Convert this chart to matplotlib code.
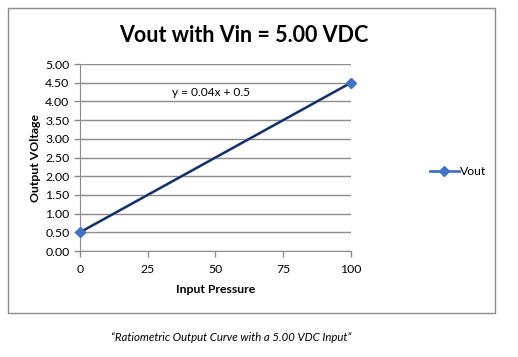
import matplotlib.pyplot as plt
from matplotlib.patches import Rectangle
import numpy as np

pressure = [0, 100]
vout = [0.5, 4.5]
x_ticks = [0, 25, 50, 75, 100]
y_ticks = [0.0, 0.5, 1.0, 1.5, 2.0, 2.5, 3.0, 3.5, 4.0, 4.5, 5.0]

plt.rcParams['font.family'] = ['Lato', 'DejaVu Sans']

fig = plt.figure(figsize=(5.18, 3.57), dpi=100)
ax = fig.add_axes([0.1544, 0.2969, 0.5232, 0.5238])

grid_color = '#8c8c8c'
blue = '#4472C4'

# chart border
fig.add_artist(Rectangle((0.0154, 0.1232), 0.940, 0.854, transform=fig.transFigure,
                         fill=False, edgecolor=grid_color, linewidth=1.0))

series, = ax.plot(pressure, vout, color=blue, marker='D', markersize=5, linewidth=2,
                  label='Vout', zorder=3)

# linear trendline
slope, intercept = np.polyfit(pressure, vout, 1)
xs = np.array([min(pressure), max(pressure)])
ax.plot(xs, slope * xs + intercept, color='#1a2a4a', linewidth=1.3, zorder=4)
# markers on top of trendline
ax.plot(pressure, vout, linestyle='none', marker='D', markersize=5, color=blue,
        zorder=5, clip_on=False)
ax.text(48.3, 4.25, 'y = 0.04x + 0.5', fontsize=8.6, ha='center', va='center')

ax.set_xlim(0, 100)
ax.set_ylim(0, 5)
ax.set_xticks(x_ticks)
ax.set_yticks(y_ticks)
ax.set_yticklabels([f'{v:.2f}' for v in y_ticks])
ax.tick_params(axis='both', labelsize=8.8, colors=grid_color, labelcolor='black',
               length=4, width=1)
ax.tick_params(axis='x', pad=5)
ax.yaxis.grid(True, color=grid_color, linewidth=1)
ax.set_axisbelow(True)
for s in ['top', 'right']:
    ax.spines[s].set_visible(False)
for s in ['left', 'bottom']:
    ax.spines[s].set_color(grid_color)

fig.text(0.471, 0.90, 'Vout with Vin = 5.00 VDC', fontsize=15.5, fontweight='bold',
         ha='center', va='center')
ax.set_xlabel('Input Pressure', fontsize=8.8, fontweight='bold', labelpad=7)
ax.set_ylabel('Output VOltage', fontsize=8.8, fontweight='bold', labelpad=3)

fig.legend(handles=[series], loc='center left', bbox_to_anchor=(0.808, 0.52),
           frameon=False, fontsize=8.8, handlelength=2.4, handletextpad=0.1)

fig.text(0.446, 0.056, '\u201cRatiometric Output Curve with a 5.00 VDC Input\u201d',
         fontsize=8.2, style='italic', ha='center', va='center')

fig.savefig('out.png', dpi=100)
